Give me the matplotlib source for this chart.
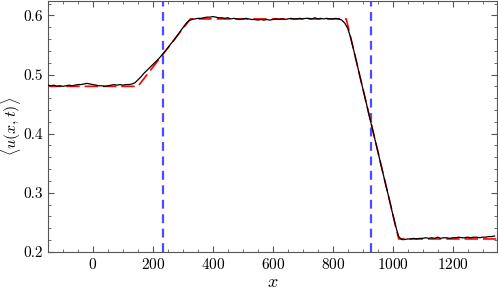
import numpy as np
import matplotlib
matplotlib.use("Agg")
import matplotlib.pyplot as plt

# profil théorique (rouge, tirets)
x_theorie = [-150, 150, 325, 845, 1020, 1350]
u_theorie = [0.480, 0.480, 0.594, 0.594, 0.222, 0.222]

# profil mesuré (noir), un point tous les 10
x_mesure = np.arange(-150, 1341, 10)
u_mesure = [
    0.482, 0.481, 0.482, 0.480, 0.481, 0.480, 0.481, 0.482, 0.481, 0.482,
    0.483, 0.483, 0.484, 0.485, 0.484, 0.483, 0.482, 0.481, 0.481, 0.480,
    0.481, 0.482, 0.483, 0.482, 0.483, 0.482, 0.483, 0.483, 0.484, 0.486,
    0.491, 0.496, 0.502, 0.507, 0.512, 0.517, 0.522, 0.527, 0.533, 0.539,
    0.545, 0.552, 0.558, 0.565, 0.572, 0.579, 0.586, 0.591, 0.593, 0.594,
    0.595, 0.595, 0.596, 0.597, 0.597, 0.598, 0.597, 0.596, 0.596, 0.595,
    0.596, 0.594, 0.595, 0.594, 0.593, 0.594, 0.595, 0.594, 0.593, 0.593,
    0.592, 0.593, 0.592, 0.593, 0.592, 0.593, 0.594, 0.593, 0.594, 0.593,
    0.594, 0.595, 0.594, 0.594, 0.595, 0.594, 0.595, 0.595, 0.594, 0.596,
    0.594, 0.595, 0.594, 0.595, 0.594, 0.594, 0.595, 0.594, 0.592, 0.587,
    0.578, 0.562, 0.541, 0.520, 0.498, 0.477, 0.456, 0.434, 0.413, 0.392,
    0.371, 0.349, 0.328, 0.307, 0.286, 0.264, 0.243, 0.226, 0.221, 0.221,
    0.222, 0.222, 0.223, 0.222, 0.223, 0.223, 0.224, 0.223, 0.224, 0.223,
    0.225, 0.223, 0.224, 0.224, 0.223, 0.224, 0.224, 0.225, 0.224, 0.224,
    0.225, 0.224, 0.225, 0.225, 0.224, 0.225, 0.225, 0.226, 0.226, 0.227,
]

# positions des fronts (bleu)
x_fronts = [233, 928]

plt.rcParams["font.family"] = "serif"
plt.rcParams["font.serif"] = ["cmr10", "DejaVu Serif"]
plt.rcParams["mathtext.fontset"] = "cm"
plt.rcParams["axes.formatter.use_mathtext"] = True

fig = plt.figure(figsize=(4.98, 2.94), dpi=100)
ax = fig.add_axes([0.0964, 0.143, 0.9016, 0.855])

ax.plot(x_mesure, u_mesure, color="black", lw=0.9, zorder=3)
ax.plot(x_theorie, u_theorie, color="red", lw=1.2, dashes=(8, 3), zorder=2)
for xf in x_fronts:
    ax.axvline(xf, color="#4d4dff", lw=1.6, dashes=(4, 2.5), zorder=1)

ax.set_xlim(-150, 1348)
ax.set_ylim(0.2, 0.625)
ax.set_xticks([0, 200, 400, 600, 800, 1000, 1200])
ax.set_xticks(np.arange(-150, 1350, 50), minor=True)
ax.set_yticks([0.2, 0.3, 0.4, 0.5, 0.6])
ax.set_yticks(np.arange(0.2, 0.625, 0.02), minor=True)
ax.set_yticklabels(["0.2", "0.3", "0.4", "0.5", "0.6"])

ax.tick_params(which="both", direction="in", top=True, right=True,
               color="#555555", labelsize=11)
ax.tick_params(which="major", length=4, width=0.8)
ax.tick_params(which="minor", length=2.5, width=0.6)
for s in ax.spines.values():
    s.set_color("#555555")
    s.set_linewidth(0.8)

ax.set_xlabel(r"$x$", fontsize=13, labelpad=2)
ax.set_ylabel(r"$\langle u(x,t)\rangle$", fontsize=11.5)
ax.yaxis.set_label_coords(-0.056, 0.5)

fig.savefig("out.png", dpi=100)
